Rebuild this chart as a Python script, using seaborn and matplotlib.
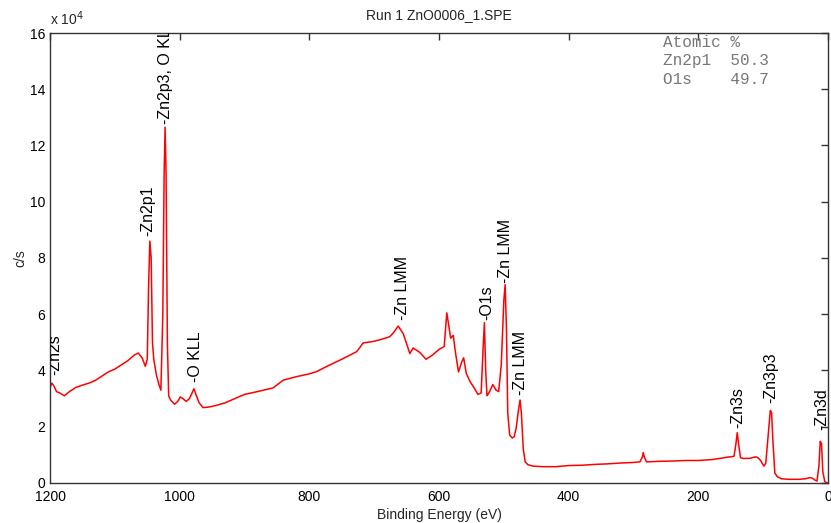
import matplotlib
matplotlib.use("Agg")
import matplotlib.pyplot as plt
import seaborn as sns

# survey spectrum (binding energy eV, counts/s)
energy = [1200, 1197, 1194, 1190, 1185, 1178, 1170, 1160, 1150, 1140, 1130, 1120,
          1110, 1100, 1090, 1080, 1070, 1064, 1058, 1053, 1050, 1048, 1046, 1044,
          1042, 1040, 1036, 1032, 1029, 1026, 1024, 1022.5, 1021, 1019, 1017, 1014,
          1008, 1003, 999, 995, 990, 985, 980, 978, 975, 970, 964, 955, 945, 930,
          915, 900, 880, 856, 840, 820, 800, 789, 770, 750, 727, 717, 702, 690,
          676, 670, 663, 655, 645, 640, 630, 620, 610, 600, 592, 588, 585, 582,
          578, 575, 570, 565, 562, 558, 552, 545, 540, 535, 532, 530, 528, 526,
          522, 517, 512, 508, 504, 500, 498, 496, 494, 491, 487, 484, 481, 478,
          475, 473, 470, 467, 463, 455, 440, 420, 400, 380, 360, 340, 320, 300,
          290, 286, 285, 283, 280, 260, 240, 220, 200, 180, 165, 155, 150, 145,
          142, 140, 138, 135, 130, 120, 112, 108, 104, 99, 96, 92, 89, 87, 85, 82,
          78, 72, 60, 45, 35, 28, 24, 20, 17, 14, 12, 10, 8, 5, 1]
counts = [34000, 35500, 34500, 32500, 32000, 31000, 32500, 34000, 34800, 35500,
          36500, 38000, 39500, 40500, 42000, 43500, 45500, 46200, 44500, 41500,
          44000, 70000, 86000, 80000, 50000, 44000, 38500, 35000, 33000, 60000,
          110000, 126500, 110000, 50000, 31000, 29500, 28000, 29000, 30600, 30000,
          29000, 30000, 32500, 33500, 31500, 28500, 26800, 27000, 27500, 28500,
          30000, 31500, 32500, 33800, 36600, 37800, 38800, 39600, 41800, 44000,
          46700, 49800, 50300, 51000, 52000, 53500, 55800, 53000, 46000, 48000,
          46500, 44000, 45500, 47500, 48500, 60500, 56000, 51500, 52500, 47000,
          39500, 43000, 44500, 39000, 36000, 33500, 31500, 32000, 48000, 57000,
          40000, 31000, 32500, 35000, 33000, 32500, 42000, 65000, 70500, 55000,
          25000, 17000, 16000, 16500, 19500, 25000, 29500, 25000, 12000, 7500,
          6500, 6000, 5800, 5800, 6200, 6300, 6600, 6800, 7100, 7300, 7500, 9500,
          10800, 9000, 7500, 7700, 7800, 8000, 8000, 8300, 8800, 9200, 9300, 9500,
          14000, 17900, 14000, 9000, 8700, 8800, 9300, 9000, 8000, 6000, 7000,
          18000, 25800, 25000, 15000, 3500, 2200, 1500, 1300, 1300, 1500, 1900,
          1700, 1000, 700, 6000, 14800, 14000, 4000, 500, 0]

# peak labels: text, energy, counts at label base
peak_names = ["-Zn2s", "-Zn2p1", "-Zn2p3, O KLL", "-O KLL", "-Zn LMM", "-O1s",
              "-Zn LMM", "-Zn LMM", "-Zn3s", "-Zn3p3", "-Zn3d"]
peak_energy = [1192, 1049, 1022, 976, 657, 527, 498, 475, 139, 88, 10]
peak_counts = [38400, 87800, 127500, 36000, 58000, 58000, 71000, 31300, 19600, 28400, 18800]

xticks = [1200, 1000, 800, 600, 400, 200, 0]
yticks = [0, 20000, 40000, 60000, 80000, 100000, 120000, 140000, 160000]
ytick_labels = ["0", "2", "4", "6", "8", "10", "12", "14", "16"]

sns.set_style("white")
plt.rcParams["font.family"] = ["Liberation Sans", "DejaVu Sans"]

fig = plt.figure(figsize=(8.31, 5.23), dpi=100)
ax = fig.add_axes([0.0602, 0.0765, 0.9362, 0.8604])

sns.lineplot(x=energy, y=counts, color="red", linewidth=1.1, ax=ax, sort=False)

for name, e, c in zip(peak_names, peak_energy, peak_counts):
    ax.text(e, c, name, rotation=90, ha="center", va="bottom", fontsize=11.5,
            color="black", clip_on=True)

ax.set_xlim(1200, 0)
ax.set_ylim(0, 160000)
ax.set_xticks(xticks)
ax.set_yticks(yticks)
ax.set_yticklabels(ytick_labels)
ax.tick_params(direction="in", length=5, width=1, top=True, right=True,
               labelsize=10, colors="#333333", labelcolor="black")
ax.tick_params(axis="x", pad=5)
for s in ax.spines.values():
    s.set_color("#333333")
    s.set_linewidth(1)

ax.set_xlabel("Binding Energy (eV)", fontsize=10, labelpad=3)
ax.set_ylabel("c/s", fontsize=10, labelpad=2)
ax.set_title("Run 1 ZnO0006_1.SPE", fontsize=10, pad=10)
ax.text(0.0, 1.012, "x 10$^4$", transform=ax.transAxes, fontsize=10,
        ha="left", va="bottom")

box_lines = ["Atomic %", "Zn2p1  50.3", "O1s    49.7"]
for i, line in enumerate(box_lines):
    ax.text(0.788, 0.98 - i * 0.042, line, transform=ax.transAxes,
            fontsize=11.5, family="Liberation Mono", color="#777777",
            ha="left", va="center")

fig.savefig("out.png", dpi=100)
